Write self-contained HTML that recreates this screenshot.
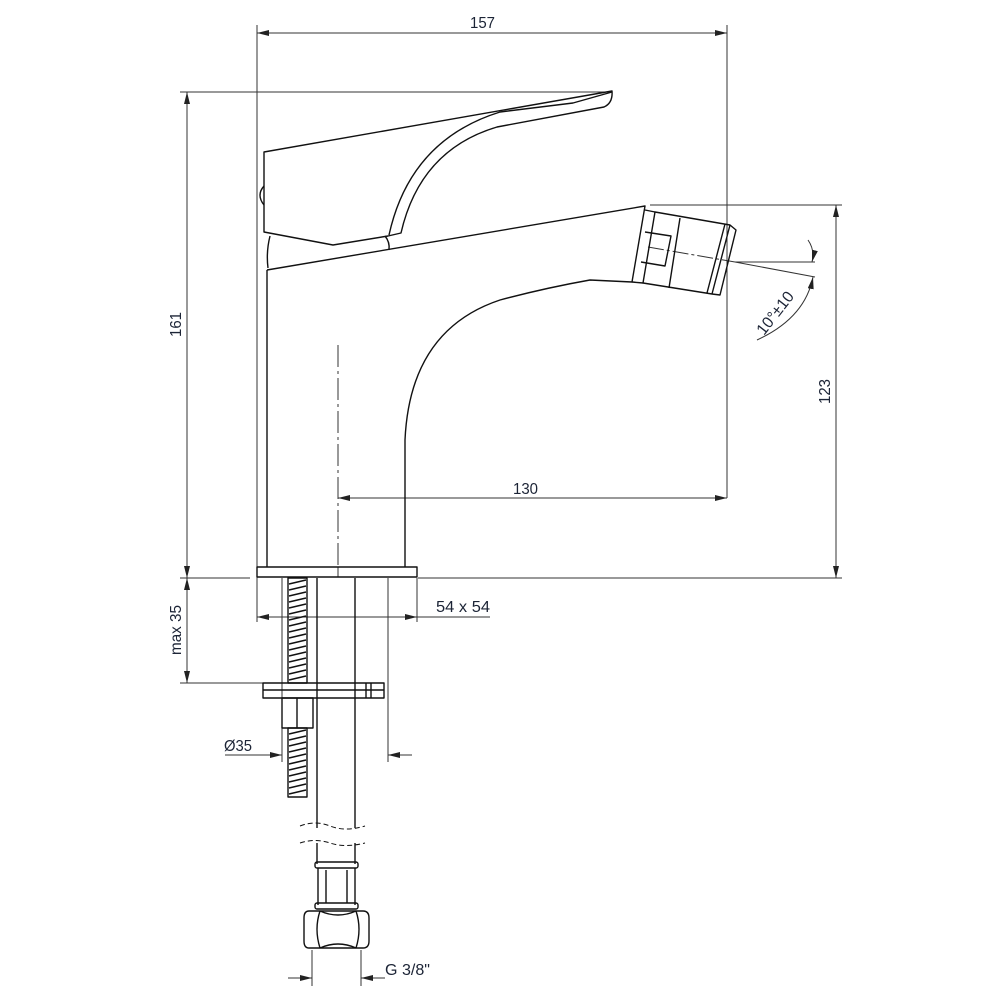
<!DOCTYPE html>
<html><head><meta charset="utf-8"><style>
html,body{margin:0;padding:0;background:#fff}
svg{display:block}
text{font-family:"Liberation Sans",sans-serif;font-size:16px;fill:#1c2436}
</style></head><body>
<svg width="1000" height="1000" viewBox="0 0 1000 1000" xmlns="http://www.w3.org/2000/svg">
<defs>
<marker id="a" viewBox="0 0 12 6" refX="12" refY="3" markerWidth="12" markerHeight="6" orient="auto-start-reverse" markerUnits="userSpaceOnUse"><path d="M0,0 L12,3 L0,6 z" fill="#222"/></marker>
</defs>
<g stroke="#333" stroke-width="1" fill="none">
<line x1="257" y1="33" x2="727" y2="33" marker-start="url(#a)" marker-end="url(#a)"/>
<line x1="257" y1="25" x2="257" y2="622"/>
<line x1="727" y1="25" x2="727" y2="498"/>
<line x1="180" y1="92" x2="610" y2="92"/>
<line x1="187" y1="92" x2="187" y2="578" marker-start="url(#a)" marker-end="url(#a)"/>
<line x1="180" y1="578" x2="250" y2="578"/>
<line x1="650" y1="205" x2="842" y2="205"/>
<line x1="836" y1="205" x2="836" y2="578" marker-start="url(#a)" marker-end="url(#a)"/>
<line x1="418" y1="578" x2="842" y2="578"/>
<line x1="338" y1="498" x2="727" y2="498" marker-start="url(#a)" marker-end="url(#a)"/>
<line x1="338" y1="345" x2="338" y2="565" stroke-dasharray="22,4,3,4"/>
<line x1="338" y1="567" x2="338" y2="577"/>
<line x1="257" y1="617" x2="417" y2="617" marker-start="url(#a)" marker-end="url(#a)"/>
<line x1="417" y1="617" x2="490" y2="617"/>
<line x1="417" y1="578" x2="417" y2="622"/>
<line x1="180" y1="683" x2="263" y2="683"/>
<line x1="187" y1="578" x2="187" y2="683" marker-start="url(#a)" marker-end="url(#a)"/>
<line x1="282" y1="578" x2="282" y2="762"/>
<line x1="388" y1="578" x2="388" y2="762"/>
<line x1="225" y1="755" x2="282" y2="755" marker-end="url(#a)"/>
<line x1="412" y1="755" x2="388" y2="755" marker-end="url(#a)"/>
<line x1="312" y1="950" x2="312" y2="986"/>
<line x1="361" y1="950" x2="361" y2="986"/>
<line x1="288" y1="978" x2="312" y2="978" marker-end="url(#a)"/>
<line x1="385" y1="978" x2="361" y2="978" marker-end="url(#a)"/>
<line x1="648" y1="247" x2="735" y2="262" stroke-dasharray="16,3,3,3"/>
<line x1="735" y1="262" x2="815" y2="262"/>
<line x1="735" y1="262" x2="815" y2="277"/>
<path d="M808 240 Q815 250 812 262" marker-end="url(#a)"/>
<path d="M757 340 Q805 318 813 277" marker-end="url(#a)"/>
</g>
<g stroke="#111" stroke-width="1.4" fill="none" stroke-linejoin="round">
<path d="M264 152 L612 91 Q613 103 604 107 L497 127 Q420 150 401 233 L388 236 L333 245 L264 232 Z"/>
<path d="M612 92 L573 103 L500 112 Q410 140 389 235"/>
<path d="M264 186 Q256 195 264 205"/>
<path d="M270 236 Q266 252 268 268"/>
<path d="M385 236 Q390 242 389 250"/>
<path d="M267 270 L645 206 L632 282 L590 280 Q545 288 500 300 Q410 330 405 440 L405 567"/>
<line x1="267" y1="270" x2="267" y2="567"/>
<rect x="257" y="567" width="160" height="10"/>
<path d="M655 212 L730 225 L736 230 L720 295 L712 294 L643 283 Z"/>
<line x1="680" y1="218" x2="669" y2="288"/>
<line x1="730" y1="225" x2="712" y2="294"/>
<line x1="725" y1="224" x2="707" y2="293"/>
<path d="M645 232 L671 236 L665 266 L641 262"/>
<line x1="645" y1="210" x2="655" y2="212"/>
<line x1="632" y1="282" x2="643" y2="283"/>
<line x1="317" y1="578" x2="317" y2="828"/>
<line x1="355" y1="578" x2="355" y2="828"/>
<path d="M300 826 Q315 820 330 826 T365 826" stroke-dasharray="5,3" stroke-width="1"/>
<path d="M300 843 Q315 838 330 843 T365 843" stroke-dasharray="5,3" stroke-width="1"/>
<line x1="317" y1="843" x2="317" y2="864"/>
<line x1="355" y1="843" x2="355" y2="864"/>
<rect x="288" y="578" width="19" height="105"/>
<rect x="288" y="728" width="19" height="69"/>
<rect x="263" y="683" width="121" height="15"/>
<line x1="263" y1="690" x2="384" y2="690"/>
<line x1="366" y1="683" x2="366" y2="698"/>
<line x1="371" y1="683" x2="371" y2="698"/>
<rect x="282" y="698" width="31" height="30"/>
<line x1="297" y1="698" x2="297" y2="728"/>
<rect x="315" y="862" width="43" height="6" rx="2"/>
<line x1="318" y1="868" x2="318" y2="905"/>
<line x1="355" y1="868" x2="355" y2="905"/>
<line x1="326" y1="870" x2="326" y2="903"/>
<line x1="347" y1="870" x2="347" y2="903"/>
<rect x="315" y="903" width="43" height="6" rx="2"/>
<path d="M309 911 L363 911 Q369 911 369 918 L369 941 Q369 948 363 948 L309 948 Q304 948 304 941 L304 918 Q304 911 309 911 Z"/>
<path d="M320 911 Q314 929 320 948"/>
<path d="M356 911 Q362 929 356 948"/>
<path d="M320 911 Q338 919 356 911"/>
<path d="M320 948 Q338 940 356 948"/>
</g>
<g stroke="#111" stroke-width="1.6">
<path d="M289 584 l17 -4 M289 590 l17 -4 M289 596 l17 -4 M289 602 l17 -4 M289 608 l17 -4 M289 614 l17 -4 M289 620 l17 -4 M289 626 l17 -4 M289 632 l17 -4 M289 638 l17 -4 M289 644 l17 -4 M289 650 l17 -4 M289 656 l17 -4 M289 662 l17 -4 M289 668 l17 -4 M289 674 l17 -4 M289 680 l17 -4"/>
<path d="M289 734 l17 -4 M289 740 l17 -4 M289 746 l17 -4 M289 752 l17 -4 M289 758 l17 -4 M289 764 l17 -4 M289 770 l17 -4 M289 776 l17 -4 M289 782 l17 -4 M289 788 l17 -4 M289 794 l17 -4"/>
</g>
<text x="470" y="28" textLength="25" lengthAdjust="spacingAndGlyphs">157</text>
<text x="513" y="494" textLength="25" lengthAdjust="spacingAndGlyphs">130</text>
<text x="436" y="612" textLength="54" lengthAdjust="spacingAndGlyphs">54 x 54</text>
<text x="224" y="751" textLength="28" lengthAdjust="spacingAndGlyphs">Ø35</text>
<text x="385" y="975" textLength="45" lengthAdjust="spacingAndGlyphs">G 3/8"</text>
<text transform="translate(181,337) rotate(-90)" textLength="25" lengthAdjust="spacingAndGlyphs">161</text>
<text transform="translate(181,655) rotate(-90)" textLength="50" lengthAdjust="spacingAndGlyphs">max 35</text>
<text transform="translate(830,404) rotate(-90)" textLength="25" lengthAdjust="spacingAndGlyphs">123</text>
<text transform="translate(764,336) rotate(-52)" textLength="50" lengthAdjust="spacingAndGlyphs">10°±10</text>
</svg>
</body></html>
